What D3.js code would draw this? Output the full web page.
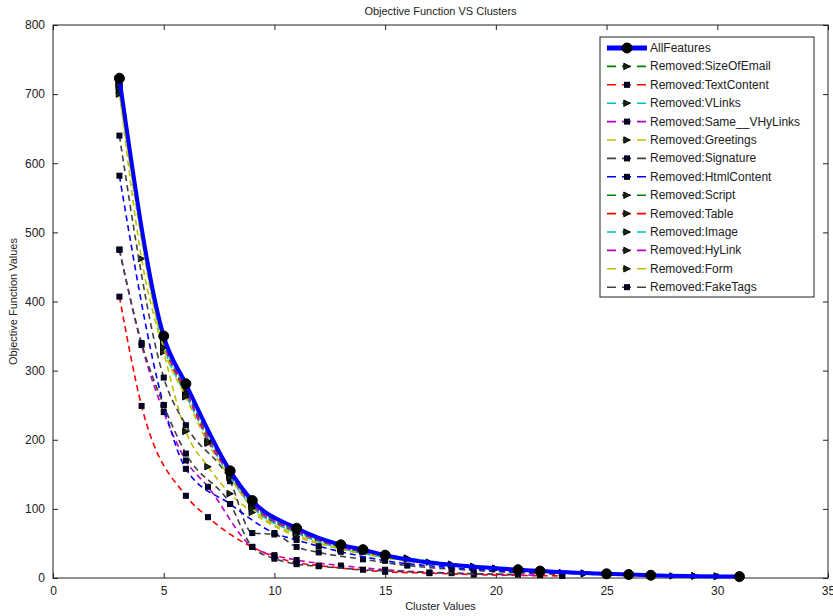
<!DOCTYPE html>
<html>
<head>
<meta charset="utf-8">
<script src="https://cdn.jsdelivr.net/npm/d3@7"></script>
<style>
  body { margin: 0; background: #fff; }
  text { font-family: Arial, "Liberation Sans", sans-serif; fill: #222; }
</style>
</head>
<body>
<div id="chart"></div>
<script>
"use strict";

// series names and their values (x = clusters, y = objective function)
const seriesNames = ["AllFeatures", "Removed:SizeOfEmail", "Removed:TextContent", "Removed:VLinks",
    "Removed:Same__VHyLinks", "Removed:Greetings", "Removed:Signature", "Removed:HtmlContent",
    "Removed:Script", "Removed:Table", "Removed:Image", "Removed:HyLink", "Removed:Form", "Removed:FakeTags"];

const allFeaturesX = [3, 5, 6, 8, 9, 11, 13, 14, 15, 21, 22, 25, 26, 27, 31];
const allFeaturesY = [723, 350, 281, 155, 112, 72, 48, 41, 33, 12, 10, 6, 5, 4, 2];
const sizeOfEmailX = [3, 5, 6, 8, 9, 11, 13, 15, 17, 20, 24, 29];
const sizeOfEmailY = [718, 345, 276, 152, 108, 68, 45, 31, 23, 14, 7, 3];
const textContentX = [3, 4, 6, 7, 10, 11, 12, 15, 17, 19, 23];
const textContentY = [407, 249, 119, 88, 31, 22, 18, 9, 7, 5, 3];
const vLinksX = [3, 5, 6, 8, 9, 11, 12, 14, 16, 20, 24, 30];
const vLinksY = [716, 343, 274, 150, 106, 66, 56, 39, 29, 14, 7, 3];
const sameVHyLinksX = [3, 4, 5, 6, 7, 9, 10, 11, 13, 15, 18, 22];
const sameVHyLinksY = [475, 337, 240, 170, 132, 45, 33, 26, 18, 12, 7, 4];
const greetingsX = [3, 4, 5, 6, 7, 8, 9, 11, 13, 15, 19, 24];
const greetingsY = [705, 462, 327, 212, 161, 122, 95, 60, 42, 29, 16, 6];
const signatureX = [3, 5, 6, 8, 9, 10, 11, 12, 14, 16, 19, 23];
const signatureY = [640, 290, 221, 140, 65, 63, 45, 37, 27, 18, 11, 5];
const htmlContentX = [3, 5, 6, 8, 10, 11, 12, 13, 15, 18, 22, 26];
const htmlContentY = [582, 250, 158, 107, 65, 55, 46, 38, 25, 15, 8, 4];
const scriptX = [3, 5, 6, 8, 9, 11, 13, 15, 18, 21, 25, 29];
const scriptY = [714, 340, 270, 150, 105, 67, 44, 31, 20, 11, 6, 3];
const tableX = [3, 5, 6, 8, 9, 11, 13, 14, 16, 20, 25, 30];
const tableY = [712, 338, 268, 148, 104, 66, 46, 38, 27, 13, 6, 2];
const imageX = [3, 5, 6, 8, 9, 11, 13, 15, 18, 21, 25, 29];
const imageY = [710, 336, 265, 146, 103, 65, 43, 30, 19, 11, 5, 3];
const hyLinkX = [3, 5, 6, 7, 8, 9, 11, 13, 15, 19, 23, 28];
const hyLinkY = [713, 342, 272, 198, 151, 107, 68, 45, 32, 17, 8, 3];
const formX = [3, 5, 6, 7, 8, 9, 11, 13, 15, 18, 22, 29];
const formY = [700, 333, 262, 195, 145, 101, 63, 42, 30, 19, 10, 3];
const fakeTagsX = [3, 4, 5, 6, 8, 9, 10, 11, 12, 14, 17, 21];
const fakeTagsY = [475, 340, 250, 180, 107, 45, 28, 20, 17, 12, 8, 5];

const xTicks = [0, 5, 10, 15, 20, 25, 30, 35];
const yTicks = [0, 100, 200, 300, 400, 500, 600, 700, 800];

const seriesX = [allFeaturesX, sizeOfEmailX, textContentX, vLinksX, sameVHyLinksX, greetingsX, signatureX,
    htmlContentX, scriptX, tableX, imageX, hyLinkX, formX, fakeTagsX];
const seriesY = [allFeaturesY, sizeOfEmailY, textContentY, vLinksY, sameVHyLinksY, greetingsY, signatureY,
    htmlContentY, scriptY, tableY, imageY, hyLinkY, formY, fakeTagsY];

// matlab-ish styles
const colors = ["#0000ff", "#007f00", "#ff0000", "#00bfbf", "#bf00bf", "#bfbf00", "#404040",
    "#0000ff", "#007f00", "#ff0000", "#00bfbf", "#bf00bf", "#bfbf00", "#404040"];
const markers = ["circle", "tri", "square", "tri", "square", "tri", "square",
    "square", "tri", "tri", "tri", "tri", "tri", "square"];

const W = 833, H = 616;
const margin = { top: 25, right: 5, bottom: 38, left: 53 };

const svg = d3.select("#chart").append("svg")
    .attr("width", W)
    .attr("height", H);

const x = d3.scaleLinear().domain([0, 35]).range([margin.left, W - margin.right]);
const y = d3.scaleLinear().domain([0, 800]).range([H - margin.bottom, margin.top]);

// axes box with inward ticks
svg.append("g")
    .attr("transform", `translate(0,${y(0)})`)
    .call(d3.axisBottom(x).tickValues(xTicks).tickSize(-5).tickPadding(8))
    .call(g => g.select(".domain").remove());
svg.append("g")
    .attr("transform", `translate(0,${y(800)})`)
    .call(d3.axisTop(x).tickValues(xTicks).tickSize(-5).tickFormat(""))
    .call(g => g.select(".domain").remove());
svg.append("g")
    .attr("transform", `translate(${x(0)},0)`)
    .call(d3.axisLeft(y).tickValues(yTicks).tickSize(-5).tickPadding(8))
    .call(g => g.select(".domain").remove());
svg.append("g")
    .attr("transform", `translate(${x(35)},0)`)
    .call(d3.axisRight(y).tickValues(yTicks).tickSize(-5).tickFormat(""))
    .call(g => g.select(".domain").remove());

svg.selectAll(".tick line").attr("stroke", "#222");
svg.selectAll(".tick text").attr("font-size", 12).attr("fill", "#333");

svg.append("rect")
    .attr("x", x(0)).attr("y", y(800))
    .attr("width", x(35) - x(0)).attr("height", y(0) - y(800))
    .attr("fill", "none").attr("stroke", "#222").attr("stroke-width", 1);

// titles
svg.append("text")
    .attr("x", (x(0) + x(35)) / 2).attr("y", 15)
    .attr("text-anchor", "middle").attr("font-size", 11)
    .text("Objective Function VS Clusters");
svg.append("text")
    .attr("x", (x(0) + x(35)) / 2).attr("y", 610)
    .attr("text-anchor", "middle").attr("font-size", 11)
    .text("Cluster Values");
svg.append("text")
    .attr("transform", `translate(17,${(y(0) + y(800)) / 2}) rotate(-90)`)
    .attr("text-anchor", "middle").attr("font-size", 11)
    .text("Objective Function Values");

function drawMarker(g, type, cx, cy, big) {
    if (type === "circle") {
        g.append("circle").attr("cx", cx).attr("cy", cy).attr("r", big ? 5 : 4)
            .attr("fill", "#000").attr("stroke", "#000");
    } else if (type === "tri") {
        const s = 3.2;
        g.append("path")
            .attr("d", `M${cx - s},${cy - s}L${cx + s},${cy}L${cx - s},${cy + s}Z`)
            .attr("fill", "#1a2a1a").attr("stroke", "#000").attr("stroke-width", 1);
    } else {
        g.append("rect").attr("x", cx - 2.5).attr("y", cy - 2.5).attr("width", 5).attr("height", 5)
            .attr("fill", "#00003a").attr("stroke", "#000").attr("stroke-width", 1);
    }
}

const line = d3.line().curve(d3.curveMonotoneX);

// draw dashed series first, AllFeatures last on top
const order = d3.range(1, seriesNames.length).concat([0]);
order.forEach(i => {
    const pts = seriesX[i].map((v, j) => [x(v), y(seriesY[i][j])]);
    const g = svg.append("g");
    g.append("path")
        .attr("d", line(pts))
        .attr("fill", "none")
        .attr("stroke", colors[i])
        .attr("stroke-width", i === 0 ? 4 : 1.6)
        .attr("stroke-dasharray", i === 0 ? null : "6,4");
    pts.forEach(p => drawMarker(g, markers[i], p[0], p[1], i === 0));
});

// legend
const lg = svg.append("g").attr("transform", "translate(600,37)");
lg.append("rect").attr("width", 214).attr("height", 260)
    .attr("fill", "#fff").attr("stroke", "#222");
seriesNames.forEach((name, i) => {
    const ly = 11 + i * 18.4;
    const row = lg.append("g");
    row.append("line")
        .attr("x1", 7).attr("x2", 47).attr("y1", ly).attr("y2", ly)
        .attr("stroke", colors[i])
        .attr("stroke-width", i === 0 ? 5 : 1.6)
        .attr("stroke-dasharray", i === 0 ? null : "9,6");
    drawMarker(row, markers[i], 27, ly, i === 0);
    row.append("text")
        .attr("x", 50).attr("y", ly + 4)
        .attr("font-size", 12)
        .text(name);
});
</script>
</body>
</html>
